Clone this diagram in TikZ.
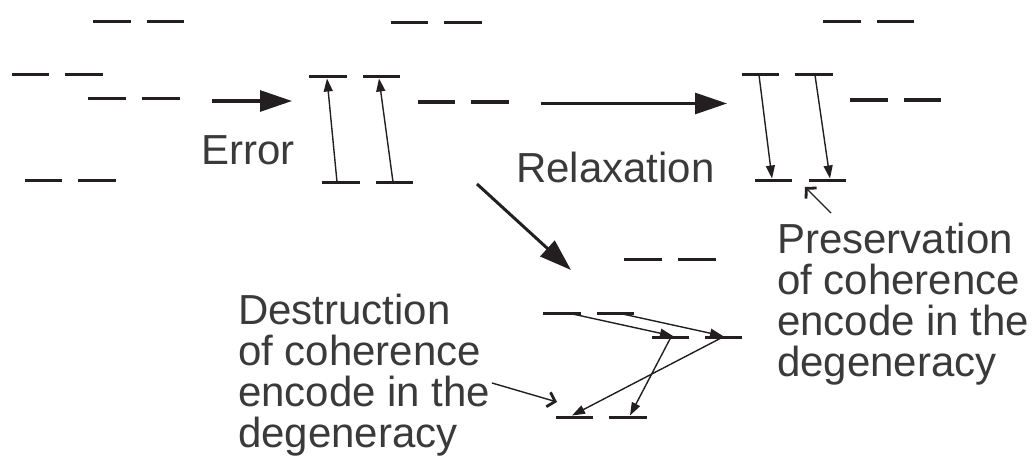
\documentclass[tikz,border=0pt]{standalone}
\usepackage{fontspec}
\setmainfont{Liberation Sans}
\usetikzlibrary{arrows.meta}
\definecolor{ink}{HTML}{231F20}
\definecolor{txt}{HTML}{3A3A3A}
\begin{document}
\begin{tikzpicture}[x=1pt,y=-1pt,
  lvl/.style={line width=3pt, ink},
  thinarr/.style={line width=1.4pt, ink, -{Triangle[length=13pt,width=9pt]}},
  bigarr/.style={line width=3pt, ink, -{Triangle[length=32pt,width=21pt]}},
  ptr/.style={line width=1.4pt, ink, -{Straight Barb[length=7pt,width=15pt,line width=2.8pt]}},
  lbl/.style={font=\fontsize{42}{41}\selectfont, text=txt, inner sep=0pt, align=left}]
\useasboundingbox (0,0) rectangle (1034,460);
% energy level pairs
\foreach \a/\b/\c/\d/\y in {93/131/147/184/22, 12/49/65/103/75, 88/126/142/180/99, 25/62/78/116/180,
  391/428/444/482/23, 309/347/363/400/77, 322/360/376/413/182, 418/455/471/509/102,
  823/861/877/914/22, 742/779/795/833/75, 755/792/809/846/180, 850/888/904/941/100,
  624/662/678/716/259, 543/581/597/634/313, 652/689/705/742/337, 556/593/609/647/417}
  {\draw[lvl] (\a,\y) -- (\b,\y); \draw[lvl] (\c,\y) -- (\d,\y);}
% named arrow ends
\coordinate (e1s) at (337,182); \coordinate (e1t) at (327,78.5);
\coordinate (e2s) at (393,182); \coordinate (e2t) at (379,78.5);
\coordinate (r1s) at (759,75);  \coordinate (r1t) at (772,178.5);
\coordinate (r2s) at (815,75);  \coordinate (r2t) at (830,178.5);
\coordinate (b1s) at (568,313); \coordinate (b1t) at (673,336);
\coordinate (b2s) at (618,313); \coordinate (b2t) at (723,336);
\coordinate (b3s) at (671,337); \coordinate (b3t) at (630,415.5);
\coordinate (b4s) at (723,337); \coordinate (b4t) at (572,415.5);
\coordinate (ea) at (212,101); \coordinate (eb) at (292,101);
\coordinate (ra) at (541,103.5); \coordinate (rb) at (727,103.5);
\coordinate (da) at (477,184); \coordinate (db) at (571,270);
\coordinate (pa) at (831,213); \coordinate (pb) at (805,187);
\coordinate (qa) at (492,383); \coordinate (qb) at (557,402);
% transitions
\draw[thinarr] (e1s) -- (e1t);
\draw[thinarr] (e2s) -- (e2t);
\draw[thinarr] (r1s) -- (r1t);
\draw[thinarr] (r2s) -- (r2t);
\draw[thinarr] (b1s) -- (b1t);
\draw[thinarr] (b2s) -- (b2t);
\draw[thinarr] (b3s) -- (b3t);
\draw[thinarr] (b4s) -- (b4t);
% process arrows
\draw[bigarr] (ea) -- (eb);
\draw[bigarr] (ra) -- (rb);
\draw[bigarr] (da) -- (db);
% pointers
\draw[ptr] (pa) -- (pb);
\draw[ptr] (qa) -- (qb);
% labels
\node[lbl, anchor=base west] (err) at (201,164) {Error};
\node[lbl, anchor=base west] (rel) at (516,182.5) {Relaxation};
\node[lbl, anchor=north west] (des) at (238,293.5) {Destruction\\of coherence\\encode in the\\degeneracy};
\node[lbl, anchor=north west] (pre) at (777,222.5) {Preservation\\of coherence\\encode in the\\degeneracy};
\end{tikzpicture}
\end{document}
